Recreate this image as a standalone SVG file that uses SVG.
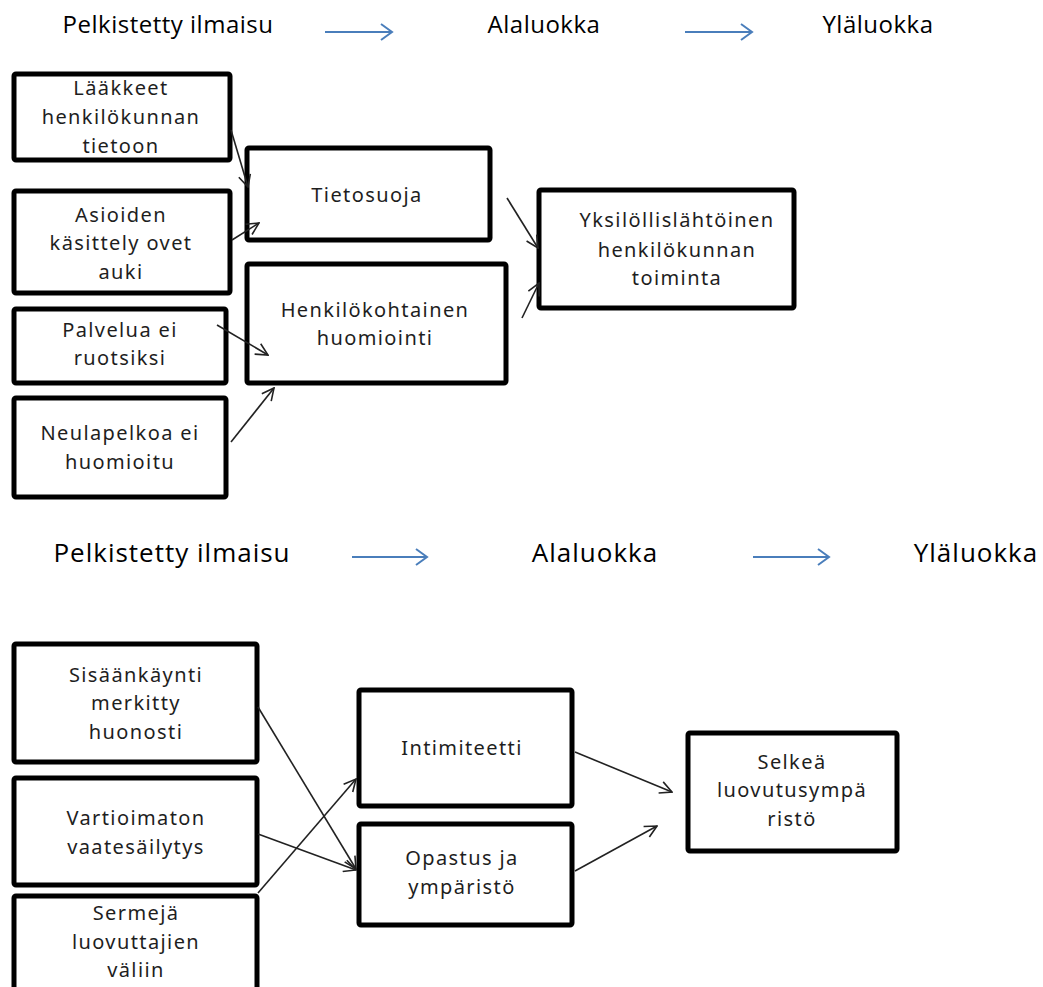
<svg xmlns="http://www.w3.org/2000/svg" width="1043" height="987" viewBox="0 0 1043 987">
<style>
.box{fill:#fff;stroke:#000;stroke-width:5}
.t{font-family:"Noto Sans","DejaVu Sans",sans-serif;font-size:20px;fill:#1e1e1e;text-anchor:middle;letter-spacing:1.4px}
.h{font-family:"Open Sans","Liberation Sans",sans-serif;fill:#000;text-anchor:middle}
.c{stroke:#222;stroke-width:1.6;fill:none;marker-end:url(#ah)}
.b{stroke:#4a7ebb;stroke-width:2;fill:none}
</style>
<defs>
<marker id="ah" viewBox="0 0 14 14" refX="13" refY="7" markerWidth="14" markerHeight="14" markerUnits="userSpaceOnUse" orient="auto">
<path d="M1,1 L13,7 L1,13" fill="none" stroke="#222" stroke-width="1.6"/>
</marker>
</defs>
<g id="header-top">
<text class="h" x="168" y="33" font-size="24" letter-spacing="0.5">Pelkistetty ilmaisu</text>
<text class="h" x="544" y="33" font-size="24" letter-spacing="0.5">Alaluokka</text>
<text class="h" x="878" y="33" font-size="24" letter-spacing="0.5">Yläluokka</text>
<path class="b" d="M325,32 H392 M381,24 L392,32 L381,40"/>
<path class="b" d="M685,32 H752 M741,24 L752,32 L741,40"/>
</g>
<g id="header-bottom">
<text class="h" x="172" y="562" font-size="26" letter-spacing="1">Pelkistetty ilmaisu</text>
<text class="h" x="595" y="562" font-size="26" letter-spacing="1">Alaluokka</text>
<text class="h" x="976" y="562" font-size="26" letter-spacing="1">Yläluokka</text>
<path class="b" d="M352,557 H427 M416,549 L427,557 L416,565"/>
<path class="b" d="M753,557 H829 M818,549 L829,557 L818,565"/>
</g>
<g id="n-laakkeet">
<rect class="box" x="14" y="74" width="216" height="86" rx="2"/>
<text class="t" x="121" y="95">Lääkkeet</text>
<text class="t" x="121" y="124">henkilökunnan</text>
<text class="t" x="121" y="153">tietoon</text>
</g>
<g id="n-asioiden">
<rect class="box" x="14" y="191" width="216" height="102" rx="2"/>
<text class="t" x="121" y="222">Asioiden</text>
<text class="t" x="121" y="250">käsittely ovet</text>
<text class="t" x="121" y="279">auki</text>
</g>
<g id="n-palvelua">
<rect class="box" x="14" y="309" width="212" height="74" rx="2"/>
<text class="t" x="120" y="337">Palvelua ei</text>
<text class="t" x="120" y="365">ruotsiksi</text>
</g>
<g id="n-neulapelkoa">
<rect class="box" x="14" y="398" width="212" height="99" rx="2"/>
<text class="t" x="120" y="440">Neulapelkoa ei</text>
<text class="t" x="120" y="469">huomioitu</text>
</g>
<g id="n-tietosuoja">
<rect class="box" x="247" y="148" width="243" height="92" rx="2"/>
<text class="t" x="367" y="202">Tietosuoja</text>
</g>
<g id="n-henkilokohtainen">
<rect class="box" x="247" y="264" width="259" height="119" rx="2"/>
<text class="t" x="375" y="317">Henkilökohtainen</text>
<text class="t" x="375" y="345">huomiointi</text>
</g>
<g id="n-yksilollis">
<rect class="box" x="539" y="190" width="255" height="118" rx="2"/>
<text class="t" x="677" y="227">Yksilöllislähtöinen</text>
<text class="t" x="677" y="257">henkilökunnan</text>
<text class="t" x="677" y="285">toiminta</text>
</g>
<g id="n-sisaankaynti">
<rect class="box" x="14" y="644" width="243" height="118" rx="2"/>
<text class="t" x="136" y="682">Sisäänkäynti</text>
<text class="t" x="136" y="710">merkitty</text>
<text class="t" x="136" y="739">huonosti</text>
</g>
<g id="n-vartioimaton">
<rect class="box" x="14" y="778" width="243" height="107" rx="2"/>
<text class="t" x="136" y="825">Vartioimaton</text>
<text class="t" x="136" y="854">vaatesäilytys</text>
</g>
<g id="n-sermeja">
<rect class="box" x="14" y="896" width="243" height="100" rx="2"/>
<text class="t" x="136" y="920">Sermejä</text>
<text class="t" x="136" y="949">luovuttajien</text>
<text class="t" x="136" y="977">väliin</text>
</g>
<g id="n-intimiteetti">
<rect class="box" x="359" y="690" width="213" height="116" rx="2"/>
<text class="t" x="462" y="755">Intimiteetti</text>
</g>
<g id="n-opastus">
<rect class="box" x="359" y="824" width="213" height="101" rx="2"/>
<text class="t" x="462" y="865">Opastus ja</text>
<text class="t" x="462" y="894">ympäristö</text>
</g>
<g id="n-selkea">
<rect class="box" x="688" y="733" width="209" height="118" rx="2"/>
<text class="t" x="792" y="769">Selkeä</text>
<text class="t" x="792" y="797">luovutusympä</text>
<text class="t" x="792" y="826">ristö</text>
</g>
<g id="connectors">
<line class="c" x1="231" y1="130" x2="248" y2="187"/>
<line class="c" x1="232" y1="240" x2="259" y2="223"/>
<line class="c" x1="217" y1="325" x2="268" y2="355"/>
<line class="c" x1="231" y1="442" x2="274" y2="388"/>
<line class="c" x1="507" y1="198" x2="538" y2="248"/>
<line class="c" x1="522" y1="318" x2="539" y2="283"/>
<line class="c" x1="258" y1="707" x2="356" y2="869"/>
<line class="c" x1="258" y1="834" x2="356" y2="870"/>
<line class="c" x1="258" y1="893" x2="356" y2="779"/>
<line class="c" x1="575" y1="752" x2="672" y2="792"/>
<line class="c" x1="575" y1="871" x2="657" y2="826"/>
</g>
</svg>
